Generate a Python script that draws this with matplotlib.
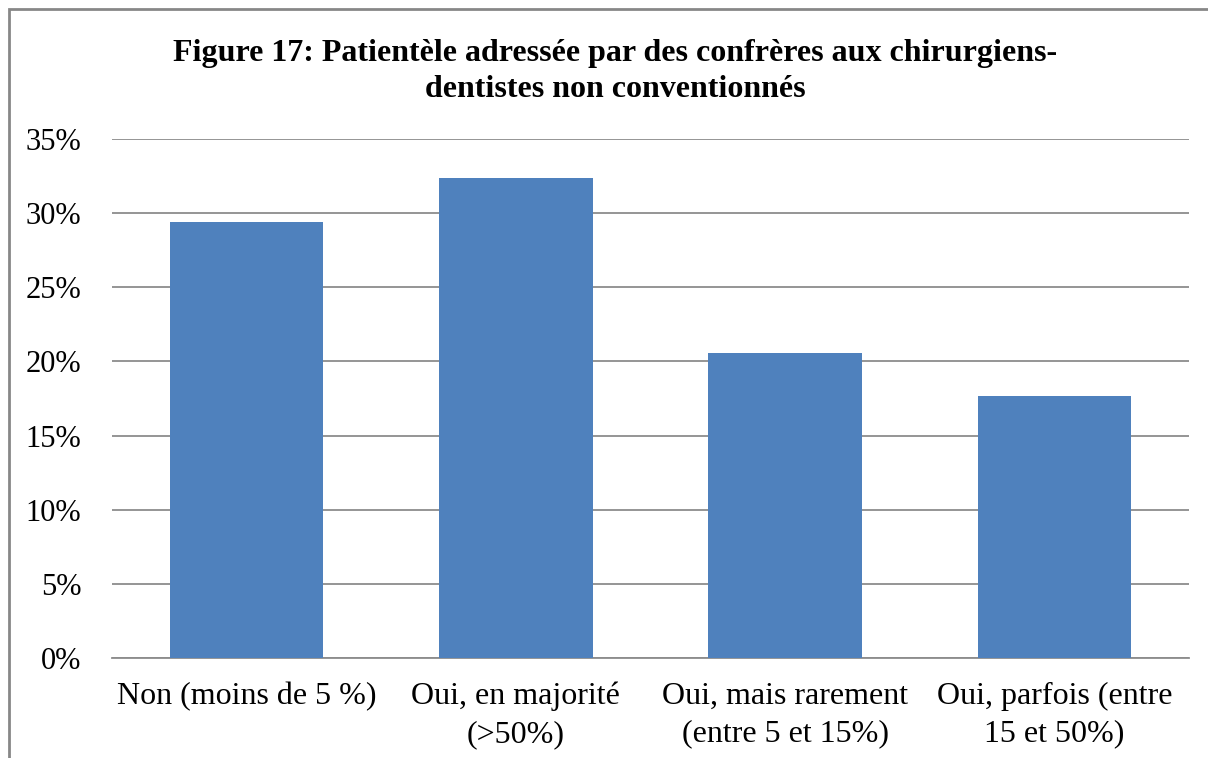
import matplotlib.pyplot as plt
import matplotlib.patches as mpatches
from matplotlib.ticker import PercentFormatter

categories = [
    "Non (moins de 5 %)",
    "Oui, en majorité\n(>50%)",
    "Oui, mais rarement\n(entre 5 et 15%)",
    "Oui, parfois (entre\n15 et 50%)",
]
shares = [29.41, 32.35, 20.59, 17.65]  # % of respondents
yticks = [0, 5, 10, 15, 20, 25, 30, 35]

plt.rcParams["font.family"] = ["Liberation Serif", "DejaVu Serif"]

fig = plt.figure(figsize=(12.08, 7.58), dpi=100)
ax = fig.add_axes([0.0927, 0.1319, 0.8916, 0.6847])

# outer frame of the chart (cut off at right/bottom in the original)
fig.patches.append(mpatches.Rectangle(
    (9 / 1208, -0.1), 1.2, 1 - 9 / 758 + 0.1, transform=fig.transFigure,
    fill=False, edgecolor="#878787", linewidth=2))

x = range(len(categories))
ax.bar(x, shares, width=0.57, color="#4F81BD", zorder=3)

ax.set_xlim(-0.5, len(categories) - 0.5)
ax.set_ylim(0, 35)
ax.set_yticks(yticks)
ax.yaxis.set_major_formatter(PercentFormatter(decimals=0))
ax.grid(axis="y", color="#8c8c8c", linewidth=1.3, zorder=0)

for s in ["top", "right", "left"]:
    ax.spines[s].set_visible(False)
ax.spines["bottom"].set_color("#8c8c8c")
ax.spines["bottom"].set_linewidth(1.3)

ax.set_xticks(list(x))
ax.set_xticklabels(categories, fontsize=23, linespacing=1.4, va="top")
ax.tick_params(axis="x", length=0, pad=17)
ax.tick_params(axis="y", length=0, pad=22, labelsize=22)

fig.text(0.509, 0.948, "Figure 17: Patientèle adressée par des confrères aux chirurgiens-\ndentistes non conventionnés",
         ha="center", va="top", fontsize=23, fontweight="bold", linespacing=1.3)

fig.savefig("out.png", dpi=100)
